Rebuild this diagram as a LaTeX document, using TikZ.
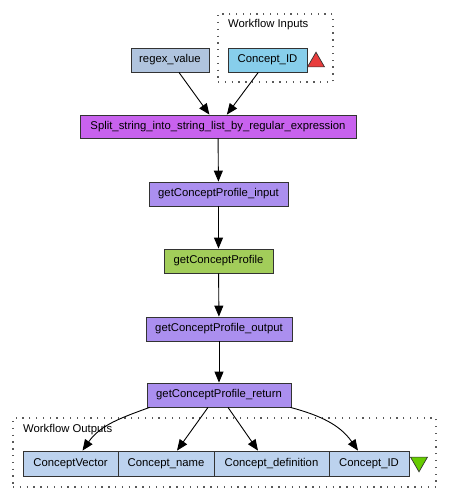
\documentclass[tikz,border=0pt]{standalone}
\usepackage{fontspec}
\setmainfont{Liberation Sans}
\usepackage{xcolor}
\usetikzlibrary{shapes.geometric}
\usetikzlibrary{arrows.meta}

\definecolor{inputblue}{HTML}{87CEEB}
\definecolor{constblue}{HTML}{B0C4DE}
\definecolor{outblue}{HTML}{BCD2EE}
\definecolor{beanpink}{HTML}{C862EE}
\definecolor{splitpurple}{HTML}{AB8FEF}
\definecolor{wsdlgreen}{HTML}{A2CD5A}
\definecolor{portred}{HTML}{E83C3C}
\definecolor{portgreen}{HTML}{66CC00}

\begin{document}
\begin{tikzpicture}[x=1pt,y=1pt,
    box/.style={draw=black!80, rectangle, line width=0.8pt, minimum height=24pt, inner sep=2pt, font=\fontsize{11.3}{13}\selectfont},
    flow/.style={-{Triangle[length=11pt,width=9pt]}, line width=0.9pt},
    group/.style={draw=black!65, line width=1.3pt, dash pattern=on 1.3pt off 5.5pt, minimum width=0pt, inner sep=0pt},
    port/.style={draw=black!80, regular polygon, regular polygon sides=3, minimum size=19.6pt, inner sep=0pt, line width=0.7pt},
    grouplabel/.style={anchor=west, inner sep=0pt, font=\fontsize{11.3}{13}\selectfont}]
    \useasboundingbox (0,0) rectangle (449,-500);
    % workflow inputs
    \node[group, minimum width=115pt, minimum height=68pt] (inputs) at (275.5,-48) {};
    \node[grouplabel] (inlabel) at (228,-25) {Workflow Inputs};
    \node[box, fill=inputblue, minimum width=79pt] (cidin) at (267.5,-60) {Concept\_ID};
    \node[port, fill=portred] (intri) at (316,-62) {};
    \node[box, fill=constblue, minimum width=78pt] (regex) at (170,-60) {regex\_value};
    % processors
    \node[box, fill=beanpink, minimum width=276pt, minimum height=23pt] (split) at (218,-126.5) {Split\_string\_into\_string\_list\_by\_regular\_expression};
    \node[box, fill=splitpurple, minimum width=139pt] (input) at (218.5,-194) {getConceptProfile\_input};
    \node[box, fill=wsdlgreen, minimum width=109pt] (profile) at (218.5,-261) {getConceptProfile};
    \node[box, fill=splitpurple, minimum width=146pt] (output) at (219,-329) {getConceptProfile\_output};
    \node[box, fill=splitpurple, minimum width=144pt] (ret) at (219,-395) {getConceptProfile\_return};
    % workflow outputs
    \node[group, minimum width=423pt, minimum height=69pt] (outputs) at (224.5,-452.5) {};
    \node[grouplabel] (outlabel) at (23,-430) {Workflow Outputs};
    \node[box, fill=outblue, minimum width=95pt, minimum height=25pt] (cv) at (70.5,-463.5) {ConceptVector};
    \node[box, fill=outblue, minimum width=96pt, minimum height=25pt] (cn) at (166,-463.5) {Concept\_name};
    \node[box, fill=outblue, minimum width=115pt, minimum height=25pt] (cd) at (271.5,-463.5) {Concept\_definition};
    \node[box, fill=outblue, minimum width=80pt, minimum height=25pt] (cidout) at (369,-463.5) {Concept\_ID};
    \node[port, fill=portgreen, shape border rotate=180] (outtri) at (419,-462) {};

    \draw[flow] (regex) -- (split);
    \draw[flow] (cidin) -- (split);
    \draw[flow] (split) -- (input);
    \draw[flow] (input) -- (profile);
    \draw[flow] (profile) -- (output);
    \draw[flow] (output) -- (ret);
    \draw[flow] ([xshift=3pt]ret.south west) to[out=200,in=55] ([xshift=12pt]cv.north);
    \draw[flow] ([xshift=-11pt]ret.south) -- ([xshift=11pt]cn.north);
    \draw[flow] ([xshift=9pt]ret.south) -- ([xshift=-13.5pt]cd.north);
    \draw[flow] ([xshift=-1pt]ret.south east) to[out=-15,in=125] ([xshift=-11pt]cidout.north);
\end{tikzpicture}
\end{document}
